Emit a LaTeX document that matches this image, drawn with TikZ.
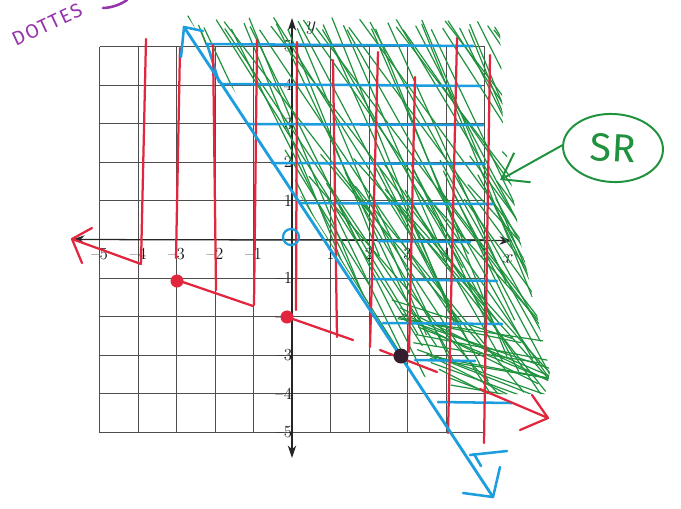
\documentclass[tikz,border=0pt]{standalone}
\usepackage{fontspec}
\newfontfamily\handfont{Fira Sans}
\newfontfamily\notefont[LetterSpace=8]{Fira Sans}
\usetikzlibrary{arrows.meta,shapes.geometric}
\definecolor{penred}{RGB}{226,38,62}
\definecolor{penblue}{RGB}{28,158,222}
\definecolor{pengreen}{RGB}{32,146,62}
\definecolor{penpurple}{RGB}{150,52,172}
\definecolor{gridgray}{RGB}{78,78,78}
\definecolor{dotdark}{RGB}{52,30,48}
\tikzset{
  gridline/.style={gridgray, line width=0.6pt},
  axisline/.style={black!85, line width=0.9pt, {Stealth[length=9pt,width=6pt]}-{Stealth[length=9pt,width=6pt]}},
  redpen/.style={penred, line width=1.6pt, line cap=round, line join=round},
  bluepen/.style={penblue, line width=1.8pt, line cap=round, line join=round},
  greenpen/.style={pengreen, line width=0.85pt, line cap=round},
  ticklab/.style={font=\fontsize{12}{13}\selectfont, inner sep=0.5pt, text=black!90},
  axlab/.style={font=\fontsize{14}{15}\selectfont, inner sep=0.5pt, text=black!85},
}
\begin{document}
\begin{tikzpicture}[x=0.025cm,y=-0.025cm]
\useasboundingbox (0,0) rectangle (681,508);
\fill[white] (0,0) rectangle (681,508);
% grid
\foreach \i in {0,...,10}{
  \draw[gridline] ({99.5+38.5*\i},46.5) -- ({99.5+38.5*\i},432.5);
  \draw[gridline] (99.5,{46.5+38.6*\i}) -- (484.5,{46.5+38.6*\i});
}
% axes
\coordinate (xl) at (72,239.5);
\coordinate (xr) at (512,240.5);
\coordinate (yt) at (292,18);
\coordinate (yb) at (292,458);
\draw[axisline] (xl) -- (xr);
\draw[axisline] (yb) -- (yt);
\node[axlab] (xlab) at (508,259) {$x$};
\node[axlab] (ylab) at (311,28) {$y$};
% tick labels
\foreach \i in {1,...,5}{
  \node[ticklab] (tp\i) at ({292+38.5*\i},254) {\i};
  \node[ticklab] (tn\i) at ({292-38.5*\i},254) {\textendash\i};
  \node[ticklab, anchor=east] (up\i) at (293,{239.5-38.6*\i}) {\i};
  \node[ticklab, anchor=east] (dn\i) at (293,{239.5+38.6*\i}) {\textendash\i};
}
% green hatching
\begin{scope}
\clip (186,14) -- (500,22) -- (503,130) -- (520,240) -- (550,372) -- (545,394) -- (470,394) -- (425,377) -- (403,359) -- cycle;
\foreach \i in {0,...,52}{
  \pgfmathsetmacro{\sx}{188+6.6*\i+4*sin(\i*97)}
  \pgfmathsetmacro{\sy}{16+14*abs(sin(\i*41))}
  \pgfmathsetmacro{\sl}{1.9+0.6*sin(\i*53)}
  \pgfmathsetmacro{\ly}{190+140*abs(sin(\i*71))}
  \draw[greenpen] (\sx,\sy) -- ++({\ly/\sl},\ly);
}
\foreach \i in {0,...,34}{
  \pgfmathsetmacro{\sx}{285+6.5*\i+4*sin(\i*83)}
  \pgfmathsetmacro{\sy}{150+50*abs(sin(\i*37))}
  \pgfmathsetmacro{\sl}{1.6+0.5*sin(\i*61)}
  \pgfmathsetmacro{\ly}{140+100*abs(sin(\i*29))}
  \draw[greenpen] (\sx,\sy) -- ++({\ly/\sl},\ly);
}
\foreach \i in {0,...,18}{
  \pgfmathsetmacro{\sx}{392+3*\i+6*sin(\i*67)}
  \pgfmathsetmacro{\sy}{300+4.5*\i+5*sin(\i*43)}
  \pgfmathsetmacro{\dx}{120+40*abs(sin(\i*59))}
  \pgfmathsetmacro{\sl}{0.32+0.18*sin(\i*73)}
  \draw[greenpen] (\sx,\sy) -- ++(\dx,{\dx*\sl});
}
\end{scope}
% blue horizontal shading
\foreach \xa/\ya/\xb/\yb in {207/44/473/46, 222/84/481/86, 248/124/483/125, 272/163/485/164, 300/203/493/204, 378/241/470/242, 370/279/497/281, 383/323/502/324, 415/360/475/361, 438/402/512/403}{
  \draw[bluepen] (\xa,\ya) -- (\xb,\yb);
}
\draw[bluepen] (207,44) -- (219,82);
\draw[bluepen] (470,455) -- (507,451);
\draw[bluepen] (474,454) -- (481,466);
% red vertical shading
\foreach \xa/\ya/\xb/\yb in {146/39/141/263, 180/48/176/258, 213/45/216/290, 257/40/254/305, 297/42/296/310, 333/60/337/337, 378/52/370/347, 415/77/409/352, 457/38/448/433, 490/55/484/443}{
  \draw[redpen] (\xa,\ya) -- (\xb,\yb);
}
% red boundary line (dashed by hand)
\draw[redpen] (92,228) -- (72,239) -- (82,263);
\draw[redpen] (72,239) -- (141,264);
\draw[redpen] (177,280) -- (253,306);
\draw[redpen] (290,318) -- (353,340);
\draw[redpen] (380,350) -- (437,372);
\draw[redpen] (480,389) -- (548,418);
\draw[redpen] (532,395) -- (548,418) -- (520,430);
% blue boundary line
\draw[bluepen, line width=2pt] (184,27) -- (493,497);
\draw[bluepen] (203,31) -- (184,27) -- (181,57);
\draw[bluepen] (463,493) -- (493,497) -- (500,467);
% blue open circle at origin
\draw[penblue, line width=1.6pt] (291,237) circle (8);
% points
\fill[penred] (177,281) circle (6.5);
\fill[penred] (287,317) circle (6.5);
\fill[dotdark] (401,356) circle (7.5);
% SR callout
\node[draw=pengreen, ellipse, line width=1.4pt, minimum width=2.5cm, minimum height=1.7cm, rotate=-3, text=pengreen, font=\handfont\fontsize{28}{30}\selectfont] (sr) at (613,148) {SR};
\coordinate (srtip) at (500,180);
\draw[pengreen, line width=1.4pt, line cap=round, -{Straight Barb[length=17pt,width=24pt,line width=1.4pt]}] (sr.west) -- (srtip);
% purple note
\node[text=penpurple, rotate=25, inner sep=0pt, font=\notefont\fontsize{14}{15}\selectfont] (note) at (47,25) {DOTTES};
\draw[penpurple, line width=1.8pt, line cap=round] (103,8) .. controls (110,8) and (120,5) .. (127,0);
\end{tikzpicture}
\end{document}
